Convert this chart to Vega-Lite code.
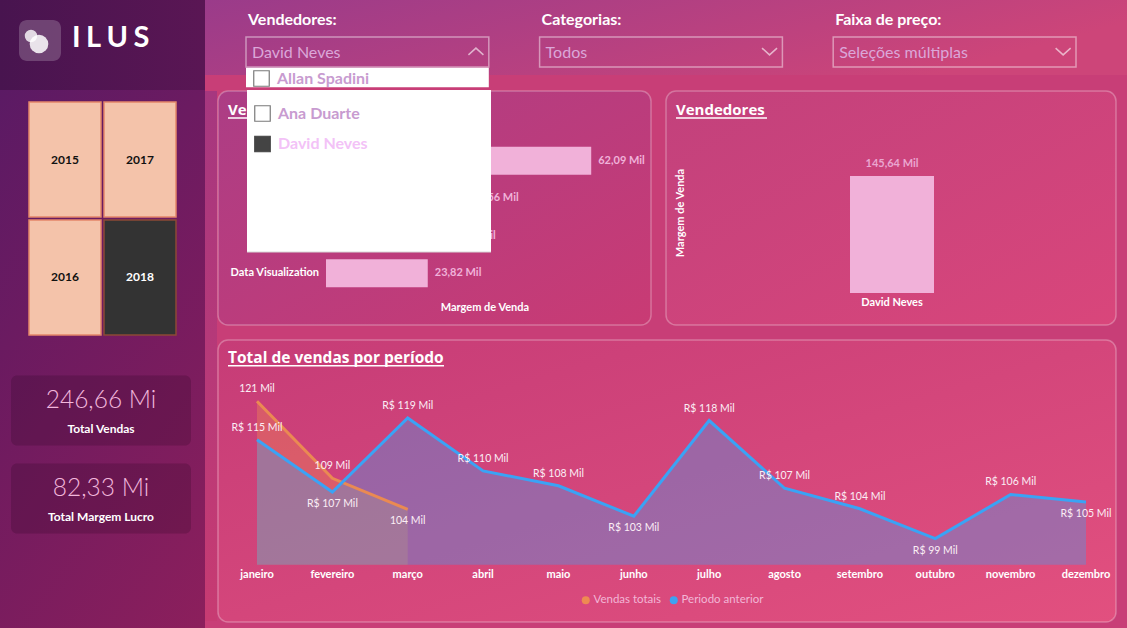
{
  "$schema": "https://vega.github.io/schema/vega-lite/v6.json",
  "background": "#c83e77",
  "padding": 0,
  "spacing": 0,
  "resolve": {"scale": {"color": "independent", "fill": "independent", "stroke": "independent", "shape": "independent"}},
  "config": {"view": {"stroke": null}, "font": "Lato"},
  "hconcat": [
    {
      "vconcat": [
        {
          "width": 205, "height": 90,
          "view": {"fill": {"gradient": "linear", "x1": 0, "y1": 0, "x2": 1, "y2": 0, "stops": [{"offset": 0, "color": "#48144f"}, {"offset": 1, "color": "#5a1654"}]}, "stroke": null},
          "data": {"values": [{"marca": "ILUS"}]},
          "layer": [
            {"mark": {"type": "rect", "cornerRadius": 8, "fill": "#ffffff", "fillOpacity": 0.2}, "encoding": {"x": {"value": 19}, "x2": {"value": 61}, "y": {"value": 20}, "y2": {"value": 61}}},
            {"mark": {"type": "point", "shape": "circle", "filled": true, "fill": "#ffffff", "opacity": 0.8, "size": 154, "strokeWidth": 0}, "encoding": {"x": {"value": 31}, "y": {"value": 36}}},
            {"mark": {"type": "point", "shape": "circle", "filled": true, "fill": "#ffffff", "opacity": 0.85, "size": 346, "strokeWidth": 0}, "encoding": {"x": {"value": 39}, "y": {"value": 44}}},
            {"mark": {"type": "text", "align": "left", "baseline": "middle", "font": "Lato", "fontWeight": "bold", "fontSize": 29, "color": "#ffffff"}, "encoding": {"x": {"value": 72}, "y": {"value": 38}, "text": {"value": "I\u2009\u200aL\u2009\u200aU\u2009\u200aS"}}}
          ]
        },
        {
          "width": 205, "height": 260,
          "view": {"fill": {"gradient": "linear", "x1": 0, "y1": 0, "x2": 1, "y2": 1, "stops": [{"offset": 0, "color": "#5b1a64"}, {"offset": 1, "color": "#7c1c5e"}]}, "stroke": null},
          "data": {"values": [
            {"ano": 2015, "selecionado": "não"},
            {"ano": 2016, "selecionado": "não"},
            {"ano": 2017, "selecionado": "não"},
            {"ano": 2018, "selecionado": "sim"}
          ]},
          "transform": [
            {"calculate": "floor((datum.ano - 2015) / 2)", "as": "coluna"},
            {"calculate": "(datum.ano - 2015) % 2", "as": "linha"}
          ],
          "layer": [
            {
              "mark": {"type": "rect", "strokeWidth": 1.5},
              "encoding": {
                "x": {"field": "coluna", "type": "ordinal", "axis": null, "scale": {"range": [29, 176], "paddingInner": 0.04, "paddingOuter": 0}},
                "y": {"field": "linha", "type": "ordinal", "axis": null, "scale": {"range": [12, 245], "paddingInner": 0.025, "paddingOuter": 0}},
                "fill": {"field": "selecionado", "type": "nominal", "scale": {"domain": ["não", "sim"], "range": ["#f4c3aa", "#333333"]}, "legend": null},
                "stroke": {"field": "selecionado", "type": "nominal", "scale": {"domain": ["não", "sim"], "range": ["#e3876a", "#8c4a36"]}, "legend": null}
              }
            },
            {
              "mark": {"type": "text", "font": "Lato", "fontWeight": "bold", "fontSize": 12, "baseline": "middle"},
              "encoding": {
                "x": {"field": "coluna", "type": "ordinal", "axis": null, "scale": {"range": [29, 176], "paddingInner": 0.04, "paddingOuter": 0}},
                "y": {"field": "linha", "type": "ordinal", "axis": null, "scale": {"range": [12, 245], "paddingInner": 0.025, "paddingOuter": 0}},
                "text": {"field": "ano", "type": "nominal"},
                "color": {"field": "selecionado", "type": "nominal", "scale": {"domain": ["não", "sim"], "range": ["#111111", "#ffffff"]}, "legend": null}
              }
            }
          ]
        },
        {
          "width": 205, "height": 278,
          "view": {"fill": {"gradient": "linear", "x1": 0, "y1": 0, "x2": 1, "y2": 1, "stops": [{"offset": 0, "color": "#6a1a60"}, {"offset": 1, "color": "#8c1f5c"}]}, "stroke": null},
          "data": {"values": [
            {"indicador": "Total Vendas", "valor": 246.66},
            {"indicador": "Total Margem Lucro", "valor": 82.33}
          ]},
          "transform": [{"calculate": "replace(format(datum.valor, '.2f'), '.', ',') + ' Mi'", "as": "rotulo"}],
          "layer": [
            {
              "mark": {"type": "rect", "fill": "#2a0420", "fillOpacity": 0.22, "cornerRadius": 6},
              "encoding": {
                "x": {"value": 11}, "x2": {"value": 191},
                "y": {"field": "indicador", "type": "nominal", "sort": null, "axis": null, "scale": {"range": [25.5, 183.5], "paddingInner": 0.2045, "paddingOuter": 0}}
              }
            },
            {
              "mark": {"type": "text", "font": "Lato", "fontWeight": 300, "fontSize": 24.5, "color": "#f2b7dc", "baseline": "middle"},
              "encoding": {
                "x": {"value": 101},
                "y": {"field": "indicador", "type": "nominal", "sort": null, "axis": null, "bandPosition": 0.36, "scale": {"range": [25.5, 183.5], "paddingInner": 0.2045, "paddingOuter": 0}},
                "text": {"field": "rotulo"}
              }
            },
            {
              "mark": {"type": "text", "font": "Lato", "fontWeight": "bold", "fontSize": 12, "color": "#ffffff", "baseline": "middle"},
              "encoding": {
                "x": {"value": 101},
                "y": {"field": "indicador", "type": "nominal", "sort": null, "axis": null, "bandPosition": 0.77, "scale": {"range": [25.5, 183.5], "paddingInner": 0.2045, "paddingOuter": 0}},
                "text": {"field": "indicador"}
              }
            }
          ]
        }
      ],
      "spacing": 0,
      "bounds": "flush",
      "resolve": {"scale": {"color": "independent", "fill": "independent", "stroke": "independent", "shape": "independent"}}
    },
    {
      "vconcat": [
        {
          "width": 922, "height": 75,
          "view": {"fill": {"gradient": "linear", "x1": 0, "y1": 0, "x2": 1, "y2": 0.3, "stops": [{"offset": 0, "color": "#9a3b8a"}, {"offset": 1, "color": "#cd4579"}]}, "stroke": null},
          "data": {"values": [
            {"filtro": "Vendedores:", "selecao": "David Neves", "aberto": "sim"},
            {"filtro": "Categorias:", "selecao": "Todos", "aberto": "não"},
            {"filtro": "Faixa de preço:", "selecao": "Seleções múltiplas", "aberto": "não"}
          ]},
          "layer": [
            {
              "mark": {"type": "rect", "fillOpacity": 0, "fill": "#ffffff", "stroke": "#ffffff", "strokeOpacity": 0.45, "strokeWidth": 1.5},
              "encoding": {
                "x": {"field": "filtro", "type": "nominal", "sort": null, "axis": null, "scale": {"range": [41, 871], "paddingInner": 0.173, "paddingOuter": 0}},
                "y": {"value": 37}, "y2": {"value": 67}
              }
            },
            {
              "mark": {"type": "text", "align": "left", "baseline": "middle", "dx": 2, "font": "Lato", "fontWeight": "bold", "fontSize": 16, "color": "#ffffff"},
              "encoding": {
                "x": {"field": "filtro", "type": "nominal", "sort": null, "axis": null, "bandPosition": 0, "scale": {"range": [41, 871], "paddingInner": 0.173, "paddingOuter": 0}},
                "y": {"value": 20},
                "text": {"field": "filtro"}
              }
            },
            {
              "mark": {"type": "text", "align": "left", "baseline": "middle", "dx": 6, "font": "Lato", "fontSize": 16, "color": "#dba7d9"},
              "encoding": {
                "x": {"field": "filtro", "type": "nominal", "sort": null, "axis": null, "bandPosition": 0, "scale": {"range": [41, 871], "paddingInner": 0.173, "paddingOuter": 0}},
                "y": {"value": 53},
                "text": {"field": "selecao"}
              }
            },
            {
              "mark": {"type": "point", "filled": false, "opacity": 1, "stroke": "#ffffff", "strokeOpacity": 0.6, "strokeWidth": 1.5, "size": 225},
              "encoding": {
                "x": {"field": "filtro", "type": "nominal", "sort": null, "axis": null, "bandPosition": 0.947, "scale": {"range": [41, 871], "paddingInner": 0.173, "paddingOuter": 0}},
                "y": {"value": 51.5},
                "shape": {"field": "aberto", "type": "nominal", "scale": {"domain": ["não", "sim"], "range": ["M-1,-0.45L0,0.45L1,-0.45", "M-1,0.45L0,-0.45L1,0.45"]}, "legend": null}
              }
            },
            {
              "transform": [{"filter": "datum.aberto == 'sim'"}],
              "mark": {"type": "rect", "fill": "#ffffff"},
              "encoding": {
                "x": {"field": "filtro", "type": "nominal", "sort": null, "axis": null, "scale": {"range": [41, 871], "paddingInner": 0.173, "paddingOuter": 0}},
                "y": {"value": 67.8}, "y2": {"value": 87.3}
              }
            },
            {
              "data": {"values": [
                {"nome": "Allan Spadini", "selecionado": "não"},
                {"nome": "Ana Duarte", "selecionado": "não"},
                {"nome": "David Neves", "selecionado": "sim"}
              ]},
              "transform": [{"window": [{"op": "row_number", "as": "ordem"}]}, {"filter": "datum.ordem == 1"}],
              "mark": {"type": "point", "shape": "square", "filled": true, "opacity": 1, "size": 240, "strokeWidth": 1.2},
              "encoding": {
                "x": {"value": 56.5},
                "y": {"field": "nome", "type": "nominal", "axis": null, "scale": {"type": "point", "domain": ["Allan Spadini", "Ana Duarte", "David Neves"], "range": [78.5, 141], "padding": 0}},
                "fill": {"field": "selecionado", "type": "nominal", "scale": {"domain": ["não", "sim"], "range": ["#ffffff", "#444444"]}, "legend": null},
                "stroke": {"field": "selecionado", "type": "nominal", "scale": {"domain": ["não", "sim"], "range": ["#7a7a7a", "#444444"]}, "legend": null}
              }
            },
            {
              "data": {"values": [
                {"nome": "Allan Spadini", "selecionado": "não"},
                {"nome": "Ana Duarte", "selecionado": "não"},
                {"nome": "David Neves", "selecionado": "sim"}
              ]},
              "transform": [{"window": [{"op": "row_number", "as": "ordem"}]}, {"filter": "datum.ordem == 1"}],
              "mark": {"type": "text", "align": "left", "baseline": "middle", "font": "Lato", "fontWeight": "bold", "fontSize": 16},
              "encoding": {
                "x": {"value": 72},
                "y": {"field": "nome", "type": "nominal", "axis": null, "scale": {"type": "point", "domain": ["Allan Spadini", "Ana Duarte", "David Neves"], "range": [78, 141], "padding": 0}},
                "text": {"field": "nome"},
                "color": {"field": "selecionado", "type": "nominal", "scale": {"domain": ["não", "sim"], "range": ["#c89bd0", "#f3c2f7"]}, "legend": null}
              }
            }
          ]
        },
        {
          "hconcat": [
            {
              "width": 12, "height": 530,
              "view": {"fill": {"gradient": "linear", "x1": 0, "y1": 0, "x2": 0, "y2": 1, "stops": [{"offset": 0, "color": "#a6377f"}, {"offset": 1, "color": "#c73b72"}]}, "stroke": null},
              "data": {"values": [{"faixa": 0}]},
              "mark": {"type": "rect", "opacity": 0},
              "encoding": {"x": {"value": 0}, "x2": {"value": 12}, "y": {"value": 0}, "y2": {"value": 530}}
            },
            {
              "vconcat": [
                {
                  "hconcat": [
                    {
                      "width": 433, "height": 234,
                      "view": {"fill": {"gradient": "linear", "x1": 0, "y1": 0, "x2": 1, "y2": 1, "stops": [{"offset": 0, "color": "#ac3d85"}, {"offset": 1, "color": "#c93b74"}]}, "stroke": "#ffffff", "strokeOpacity": 0.28, "strokeWidth": 1.5, "cornerRadius": 10},
                      "resolve": {"scale": {"y": "independent"}},
                      "layer": [
                        {
                          "data": {"values": [{"titulo": "Vendas por categoria"}]},
                          "mark": {"type": "text", "align": "left", "baseline": "alphabetic", "font": "Open Sans", "fontWeight": "bold", "fontSize": 15, "color": "#ffffff"},
                          "encoding": {"x": {"value": 10}, "y": {"value": 24}, "text": {"field": "titulo"}}
                        },
                        {
                          "data": {"values": [{"titulo": "Vendas por categoria"}]},
                          "mark": {"type": "rule", "color": "#ffffff", "strokeWidth": 1.5},
                          "encoding": {"x": {"value": 10}, "x2": {"value": 160}, "y": {"value": 27}}
                        },
                        {
                          "data": {"values": [
                            {"categoria": "Data Science", "margem": 62.09},
                            {"categoria": "Power BI", "margem": 32.56},
                            {"categoria": "SQL", "margem": 27.17},
                            {"categoria": "Data Visualization", "margem": 23.82}
                          ]},
                          "mark": {"type": "bar", "color": "#f1b1d9"},
                          "encoding": {
                            "x": {"field": "margem", "type": "quantitative", "axis": null, "stack": null, "scale": {"domain": [0, 70], "range": [108, 407], "nice": false}},
                            "y": {"field": "categoria", "type": "nominal", "sort": null, "axis": null, "scale": {"range": [51, 201], "paddingInner": 0.25, "paddingOuter": 0.125}}
                          }
                        },
                        {
                          "data": {"values": [
                            {"categoria": "Data Science", "margem": 62.09},
                            {"categoria": "Power BI", "margem": 32.56},
                            {"categoria": "SQL", "margem": 27.17},
                            {"categoria": "Data Visualization", "margem": 23.82}
                          ]},
                          "mark": {"type": "text", "align": "right", "baseline": "middle", "dx": -7, "font": "Lato", "fontWeight": "bold", "fontSize": 11, "color": "#ffffff"},
                          "encoding": {
                            "x": {"datum": 0, "type": "quantitative", "axis": null, "scale": {"domain": [0, 70], "range": [108, 407], "nice": false}},
                            "y": {"field": "categoria", "type": "nominal", "sort": null, "axis": null, "scale": {"range": [51, 201], "paddingInner": 0.25, "paddingOuter": 0.125}},
                            "text": {"field": "categoria"}
                          }
                        },
                        {
                          "data": {"values": [
                            {"categoria": "Data Science", "margem": 62.09},
                            {"categoria": "Power BI", "margem": 32.56},
                            {"categoria": "SQL", "margem": 27.17},
                            {"categoria": "Data Visualization", "margem": 23.82}
                          ]},
                          "transform": [{"calculate": "replace(format(datum.margem, '.2f'), '.', ',') + ' Mil'", "as": "rotulo"}],
                          "mark": {"type": "text", "align": "left", "baseline": "middle", "dx": 7, "font": "Lato", "fontWeight": "bold", "fontSize": 11, "color": "#f0b2d9"},
                          "encoding": {
                            "x": {"field": "margem", "type": "quantitative", "axis": null, "scale": {"domain": [0, 70], "range": [108, 407], "nice": false}},
                            "y": {"field": "categoria", "type": "nominal", "sort": null, "axis": null, "scale": {"range": [51, 201], "paddingInner": 0.25, "paddingOuter": 0.125}},
                            "text": {"field": "rotulo"}
                          }
                        },
                        {
                          "data": {"values": [{"eixo": "Margem de Venda"}]},
                          "mark": {"type": "text", "baseline": "middle", "font": "Lato", "fontWeight": "bold", "fontSize": 11, "color": "#ffffff"},
                          "encoding": {
                            "x": {"datum": 37.2, "type": "quantitative", "axis": null, "scale": {"domain": [0, 70], "range": [108, 407], "nice": false}},
                            "y": {"value": 217},
                            "text": {"field": "eixo"}
                          }
                        },
                        {
                          "data": {"values": [{"lista": "Vendedores"}]},
                          "mark": {"type": "rect", "fill": "#ffffff"},
                          "encoding": {"x": {"value": 29}, "x2": {"value": 273}, "y": {"value": -1}, "y2": {"value": 161}}
                        },
                        {
                          "data": {"values": [{"lista": "Vendedores"}]},
                          "mark": {"type": "rule", "color": "#d8d8d8", "strokeWidth": 1},
                          "encoding": {"x": {"value": 29}, "x2": {"value": 273}, "y": {"value": 161}}
                        },
                        {
                          "data": {"values": [
                            {"nome": "Allan Spadini", "selecionado": "não"},
                            {"nome": "Ana Duarte", "selecionado": "não"},
                            {"nome": "David Neves", "selecionado": "sim"}
                          ]},
                          "transform": [{"window": [{"op": "row_number", "as": "ordem"}]}, {"filter": "datum.ordem > 1"}],
                          "mark": {"type": "point", "shape": "square", "filled": true, "opacity": 1, "size": 240, "strokeWidth": 1.2},
                          "encoding": {
                            "x": {"value": 44.5},
                            "y": {"field": "nome", "type": "nominal", "axis": null, "scale": {"type": "point", "domain": ["Allan Spadini", "Ana Duarte", "David Neves"], "range": [-8, 53], "padding": 0}},
                            "fill": {"field": "selecionado", "type": "nominal", "scale": {"domain": ["não", "sim"], "range": ["#ffffff", "#444444"]}, "legend": null},
                            "stroke": {"field": "selecionado", "type": "nominal", "scale": {"domain": ["não", "sim"], "range": ["#7a7a7a", "#444444"]}, "legend": null}
                          }
                        },
                        {
                          "data": {"values": [
                            {"nome": "Allan Spadini", "selecionado": "não"},
                            {"nome": "Ana Duarte", "selecionado": "não"},
                            {"nome": "David Neves", "selecionado": "sim"}
                          ]},
                          "transform": [{"window": [{"op": "row_number", "as": "ordem"}]}, {"filter": "datum.ordem > 1"}],
                          "mark": {"type": "text", "align": "left", "baseline": "middle", "font": "Lato", "fontWeight": "bold", "fontSize": 16},
                          "encoding": {
                            "x": {"value": 60},
                            "y": {"field": "nome", "type": "nominal", "axis": null, "scale": {"type": "point", "domain": ["Allan Spadini", "Ana Duarte", "David Neves"], "range": [-8, 53], "padding": 0}},
                            "text": {"field": "nome"},
                            "color": {"field": "selecionado", "type": "nominal", "scale": {"domain": ["não", "sim"], "range": ["#c89bd0", "#f3c2f7"]}, "legend": null}
                          }
                        }
                      ]
                    },
                    {
                      "width": 450, "height": 234,
                      "view": {"fill": {"gradient": "linear", "x1": 0, "y1": 0, "x2": 1, "y2": 1, "stops": [{"offset": 0, "color": "#c2417c"}, {"offset": 1, "color": "#d9467b"}]}, "stroke": "#ffffff", "strokeOpacity": 0.28, "strokeWidth": 1.5, "cornerRadius": 10},
                      "data": {"values": [{"vendedor": "David Neves", "margem": 145.64}]},
                      "transform": [{"calculate": "replace(format(datum.margem, '.2f'), '.', ',') + ' Mil'", "as": "rotulo"}],
                      "layer": [
                        {
                          "data": {"values": [{"titulo": "Vendedores"}]},
                          "mark": {"type": "text", "align": "left", "baseline": "alphabetic", "font": "Open Sans", "fontWeight": "bold", "fontSize": 15, "color": "#ffffff"},
                          "encoding": {"x": {"value": 10}, "y": {"value": 24}, "text": {"field": "titulo"}}
                        },
                        {
                          "data": {"values": [{"titulo": "Vendedores"}]},
                          "mark": {"type": "rule", "color": "#ffffff", "strokeWidth": 1.5},
                          "encoding": {"x": {"value": 10}, "x2": {"value": 101}, "y": {"value": 27}}
                        },
                        {
                          "data": {"values": [{"eixo": "Margem de Venda"}]},
                          "mark": {"type": "text", "angle": 270, "baseline": "middle", "font": "Lato", "fontWeight": "bold", "fontSize": 11, "color": "#ffffff"},
                          "encoding": {"x": {"value": 15}, "y": {"value": 122}, "text": {"field": "eixo"}}
                        },
                        {
                          "mark": {"type": "bar", "color": "#f1b1d9"},
                          "encoding": {
                            "x": {"field": "vendedor", "type": "nominal", "axis": null, "scale": {"range": [184, 268], "paddingInner": 0, "paddingOuter": 0}},
                            "y": {"field": "margem", "type": "quantitative", "axis": null, "stack": null, "scale": {"domain": [0, 251.4], "range": [202, 0], "nice": false}}
                          }
                        },
                        {
                          "mark": {"type": "text", "baseline": "middle", "dy": -12, "font": "Lato", "fontWeight": "bold", "fontSize": 11, "color": "#eaa6d0"},
                          "encoding": {
                            "x": {"field": "vendedor", "type": "nominal", "axis": null, "scale": {"range": [184, 268], "paddingInner": 0, "paddingOuter": 0}},
                            "y": {"field": "margem", "type": "quantitative", "axis": null, "scale": {"domain": [0, 251.4], "range": [202, 0], "nice": false}},
                            "text": {"field": "rotulo"}
                          }
                        },
                        {
                          "mark": {"type": "text", "baseline": "middle", "dy": 10, "font": "Lato", "fontWeight": "bold", "fontSize": 11, "color": "#ffffff"},
                          "encoding": {
                            "x": {"field": "vendedor", "type": "nominal", "axis": null, "scale": {"range": [184, 268], "paddingInner": 0, "paddingOuter": 0}},
                            "y": {"datum": 0, "type": "quantitative", "axis": null, "scale": {"domain": [0, 251.4], "range": [202, 0], "nice": false}},
                            "text": {"field": "vendedor"}
                          }
                        }
                      ]
                    }
                  ],
                  "spacing": 15,
                  "bounds": "flush",
                  "resolve": {"scale": {"color": "independent", "fill": "independent", "stroke": "independent", "shape": "independent"}}
                },
                {
                  "width": 898, "height": 282,
                  "view": {"fill": {"gradient": "linear", "x1": 0, "y1": 0, "x2": 1, "y2": 1, "stops": [{"offset": 0, "color": "#c63c77"}, {"offset": 1, "color": "#e2507f"}]}, "stroke": "#ffffff", "strokeOpacity": 0.28, "strokeWidth": 1.5, "cornerRadius": 10},
                  "data": {"values": [
                    {"mes": "janeiro", "n": 1, "serie": "Vendas totais", "valor": 121.3},
                    {"mes": "fevereiro", "n": 2, "serie": "Vendas totais", "valor": 108.9},
                    {"mes": "março", "n": 3, "serie": "Vendas totais", "valor": 103.9},
                    {"mes": "janeiro", "n": 1, "serie": "Periodo anterior", "valor": 115.1},
                    {"mes": "fevereiro", "n": 2, "serie": "Periodo anterior", "valor": 106.7},
                    {"mes": "março", "n": 3, "serie": "Periodo anterior", "valor": 118.6},
                    {"mes": "abril", "n": 4, "serie": "Periodo anterior", "valor": 110.1},
                    {"mes": "maio", "n": 5, "serie": "Periodo anterior", "valor": 107.7},
                    {"mes": "junho", "n": 6, "serie": "Periodo anterior", "valor": 102.8},
                    {"mes": "julho", "n": 7, "serie": "Periodo anterior", "valor": 118.2},
                    {"mes": "agosto", "n": 8, "serie": "Periodo anterior", "valor": 107.3},
                    {"mes": "setembro", "n": 9, "serie": "Periodo anterior", "valor": 104.0},
                    {"mes": "outubro", "n": 10, "serie": "Periodo anterior", "valor": 99.2},
                    {"mes": "novembro", "n": 11, "serie": "Periodo anterior", "valor": 106.3},
                    {"mes": "dezembro", "n": 12, "serie": "Periodo anterior", "valor": 105.1}
                  ]},
                  "transform": [
                    {"window": [{"op": "lag", "field": "valor", "as": "ant"}, {"op": "lead", "field": "valor", "as": "prox"}], "groupby": ["serie"], "sort": [{"field": "n"}]},
                    {"calculate": "isValid(datum.ant) && datum.valor < datum.ant && (!isValid(datum.prox) || datum.valor < datum.prox)", "as": "abaixo"},
                    {"calculate": "(datum.serie == 'Periodo anterior' ? 'R$ ' : '') + format(datum.valor, '.0f') + ' Mil'", "as": "rotulo"},
                    {"calculate": "95", "as": "eixo_base"}
                  ],
                  "layer": [
                    {
                      "data": {"values": [{"titulo": "Total de vendas por período"}]},
                      "mark": {"type": "text", "align": "left", "baseline": "alphabetic", "font": "Open Sans", "fontWeight": "bold", "fontSize": 15.5, "color": "#ffffff"},
                      "encoding": {"x": {"value": 10}, "y": {"value": 23}, "text": {"field": "titulo"}}
                    },
                    {
                      "data": {"values": [{"titulo": "Total de vendas por período"}]},
                      "mark": {"type": "rule", "color": "#ffffff", "strokeWidth": 1.5},
                      "encoding": {"x": {"value": 10}, "x2": {"value": 226}, "y": {"value": 25.7}}
                    },
                    {
                      "transform": [{"filter": "datum.serie == 'Vendas totais'"}],
                      "mark": {"type": "area", "fillOpacity": 0.38, "orient": "vertical"},
                      "encoding": {
                        "x": {"field": "mes", "type": "nominal", "axis": null, "sort": ["janeiro", "fevereiro", "março", "abril", "maio", "junho", "julho", "agosto", "setembro", "outubro", "novembro", "dezembro"], "scale": {"type": "point", "domain": ["janeiro", "fevereiro", "março", "abril", "maio", "junho", "julho", "agosto", "setembro", "outubro", "novembro", "dezembro"], "range": [39, 868], "padding": 0}},
                        "y": {"field": "valor", "type": "quantitative", "axis": null, "scale": {"domain": [85.78, 131.16], "zero": false, "nice": false}},
                        "y2": {"field": "eixo_base"},
                        "color": {"field": "serie", "type": "nominal", "scale": {"domain": ["Vendas totais", "Periodo anterior"], "range": ["#ee8a52", "#3ea2f2"]}, "legend": {"orient": "none", "legendX": 362, "legendY": 254, "direction": "horizontal", "title": null, "symbolType": "circle", "symbolSize": 64, "symbolOpacity": 1, "symbolFillOpacity": 1, "symbolStrokeWidth": 0, "labelFont": "Lato", "labelFontSize": 11.5, "labelColor": "#f2b6d6", "labelOffset": 2, "columnPadding": 6, "padding": 0}}
                      }
                    },
                    {
                      "transform": [{"filter": "datum.serie == 'Periodo anterior'"}],
                      "mark": {"type": "area", "fillOpacity": 0.36, "orient": "vertical"},
                      "encoding": {
                        "x": {"field": "mes", "type": "nominal", "axis": null, "sort": ["janeiro", "fevereiro", "março", "abril", "maio", "junho", "julho", "agosto", "setembro", "outubro", "novembro", "dezembro"], "scale": {"type": "point", "domain": ["janeiro", "fevereiro", "março", "abril", "maio", "junho", "julho", "agosto", "setembro", "outubro", "novembro", "dezembro"], "range": [39, 868], "padding": 0}},
                        "y": {"field": "valor", "type": "quantitative", "axis": null, "scale": {"domain": [85.78, 131.16], "zero": false, "nice": false}},
                        "y2": {"field": "eixo_base"},
                        "color": {"field": "serie", "type": "nominal", "scale": {"domain": ["Vendas totais", "Periodo anterior"], "range": ["#ee8a52", "#3ea2f2"]}, "legend": {"orient": "none", "legendX": 362, "legendY": 254, "direction": "horizontal", "title": null, "symbolType": "circle", "symbolSize": 64, "symbolOpacity": 1, "symbolFillOpacity": 1, "symbolStrokeWidth": 0, "labelFont": "Lato", "labelFontSize": 11.5, "labelColor": "#f2b6d6", "labelOffset": 2, "columnPadding": 6, "padding": 0}}
                      }
                    },
                    {
                      "transform": [{"filter": "datum.serie == 'Vendas totais'"}],
                      "mark": {"type": "line", "stroke": "#ea8a52", "strokeWidth": 3},
                      "encoding": {
                        "x": {"field": "mes", "type": "nominal", "axis": null, "scale": {"type": "point", "domain": ["janeiro", "fevereiro", "março", "abril", "maio", "junho", "julho", "agosto", "setembro", "outubro", "novembro", "dezembro"], "range": [39, 868], "padding": 0}},
                        "y": {"field": "valor", "type": "quantitative", "axis": null, "scale": {"domain": [85.78, 131.16], "zero": false, "nice": false}},
                        "order": {"field": "n", "type": "quantitative"}
                      }
                    },
                    {
                      "transform": [{"filter": "datum.serie == 'Periodo anterior'"}],
                      "mark": {"type": "line", "stroke": "#3aa3f5", "strokeWidth": 3},
                      "encoding": {
                        "x": {"field": "mes", "type": "nominal", "axis": null, "scale": {"type": "point", "domain": ["janeiro", "fevereiro", "março", "abril", "maio", "junho", "julho", "agosto", "setembro", "outubro", "novembro", "dezembro"], "range": [39, 868], "padding": 0}},
                        "y": {"field": "valor", "type": "quantitative", "axis": null, "scale": {"domain": [85.78, 131.16], "zero": false, "nice": false}},
                        "order": {"field": "n", "type": "quantitative"}
                      }
                    },
                    {
                      "transform": [{"filter": "!datum.abaixo"}],
                      "mark": {"type": "text", "baseline": "middle", "dy": -12, "font": "Lato", "fontSize": 10.5, "color": "#fbeef5"},
                      "encoding": {
                        "x": {"field": "mes", "type": "nominal", "axis": null, "scale": {"type": "point", "domain": ["janeiro", "fevereiro", "março", "abril", "maio", "junho", "julho", "agosto", "setembro", "outubro", "novembro", "dezembro"], "range": [39, 868], "padding": 0}},
                        "y": {"field": "valor", "type": "quantitative", "axis": null, "scale": {"domain": [85.78, 131.16], "zero": false, "nice": false}},
                        "text": {"field": "rotulo"}
                      }
                    },
                    {
                      "transform": [{"filter": "datum.abaixo"}],
                      "mark": {"type": "text", "baseline": "middle", "dy": 12, "font": "Lato", "fontSize": 10.5, "color": "#fbeef5"},
                      "encoding": {
                        "x": {"field": "mes", "type": "nominal", "axis": null, "scale": {"type": "point", "domain": ["janeiro", "fevereiro", "março", "abril", "maio", "junho", "julho", "agosto", "setembro", "outubro", "novembro", "dezembro"], "range": [39, 868], "padding": 0}},
                        "y": {"field": "valor", "type": "quantitative", "axis": null, "scale": {"domain": [85.78, 131.16], "zero": false, "nice": false}},
                        "text": {"field": "rotulo"}
                      }
                    },
                    {
                      "transform": [{"filter": "datum.serie == 'Periodo anterior'"}],
                      "mark": {"type": "text", "baseline": "middle", "font": "Lato", "fontWeight": "bold", "fontSize": 11, "color": "#ffffff"},
                      "encoding": {
                        "x": {"field": "mes", "type": "nominal", "axis": null, "scale": {"type": "point", "domain": ["janeiro", "fevereiro", "março", "abril", "maio", "junho", "julho", "agosto", "setembro", "outubro", "novembro", "dezembro"], "range": [39, 868], "padding": 0}},
                        "y": {"datum": 93.34, "type": "quantitative", "axis": null, "scale": {"domain": [85.78, 131.16], "zero": false, "nice": false}},
                        "text": {"field": "mes"}
                      }
                    }
                  ]
                }
              ],
              "spacing": 13,
              "resolve": {"scale": {"color": "independent", "fill": "independent", "stroke": "independent", "shape": "independent"}}
            }
          ],
          "spacing": 0,
          "resolve": {"scale": {"color": "independent", "fill": "independent", "stroke": "independent", "shape": "independent"}}
        }
      ],
      "spacing": 0,
      "resolve": {"scale": {"color": "independent", "fill": "independent", "stroke": "independent", "shape": "independent"}}
    }
  ]
}
